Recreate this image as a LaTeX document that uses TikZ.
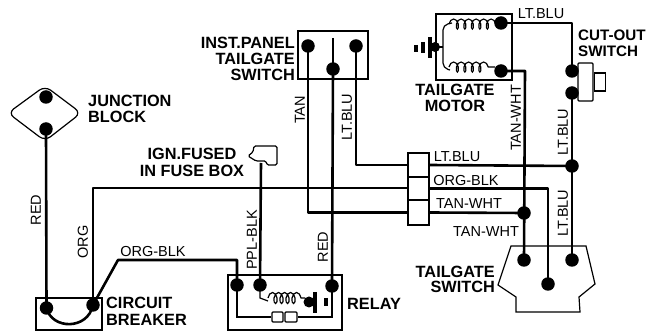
\documentclass[tikz,border=0pt]{standalone}
\usepackage{fontspec}
\setmainfont{Liberation Sans}
\usetikzlibrary{decorations.pathmorphing}
\tikzset{
  wire/.style={line width=2.6pt,black,line join=round},
  thin wire/.style={line width=1.2pt,black},
  outline/.style={line width=1.2pt,black},
  boxn/.style={draw,line width=1.2pt,inner sep=0pt,rectangle},
  dot/.style={circle,fill=black,inner sep=0pt,minimum size=13.5pt},
  tag/.style={font=\fontsize{14.5}{15}\selectfont,inner sep=0pt},
  vtag/.style={tag,rotate=90},
  title/.style={font=\fontsize{16.3}{17}\bfseries\selectfont,inner sep=0pt,align=left},
  coilwire/.style={line width=1.2pt,decorate,decoration={coil,aspect=0.55,amplitude=5pt,segment length=7.5pt}},
  coilsmall/.style={line width=1.2pt,decorate,decoration={coil,aspect=0.55,amplitude=5.5pt,segment length=6pt}}
}
\begin{document}
\begin{tikzpicture}[x=1pt,y=-1pt]
\useasboundingbox (0,0) rectangle (649,331);
% boxes
\node[boxn,minimum width=66pt,minimum height=32pt] (cb) at (69,314) {};
\node[boxn,minimum width=114pt,minimum height=55pt] (relay) at (285,302.5) {};
\node[boxn,minimum width=70pt,minimum height=48pt] (panel) at (333,55) {};
\node[boxn,minimum width=76pt,minimum height=66pt] (motor) at (474,47) {};
\node[boxn,minimum width=15pt,minimum height=38pt,rounded corners=1pt] (cut) at (585.5,82) {};
\node[boxn,minimum width=11pt,minimum height=18pt,anchor=west] (nub) at (cut.east) {};
\node[boxn,minimum width=21pt,minimum height=24pt] (c1) at (418.5,165) {};
\node[boxn,minimum width=21pt,minimum height=23pt] (c2) at (418.5,188.5) {};
\node[boxn,minimum width=21pt,minimum height=25pt] (c3) at (418.5,212.5) {};
% junction block outline
\draw[outline,rounded corners=7pt] (45,86) -- (81,113) -- (45,141) -- (8,113) -- cycle;
% tailgate switch outline
\draw[outline] (511,246) -- (586,246) -- (595,284) -- (579,297) -- (580,312) -- (516,312) -- (516,297) -- (498,285) -- cycle;
% fuse connector
\draw[outline,rounded corners=1.5pt] (254,146) -- (277,146) -- (277,165) -- (267,165) -- (266,161) -- (256,161) -- (248,156) -- (253,152) -- cycle;
% dots
\node[dot] (j1) at (46,97) {};
\node[dot] (j2) at (46,129) {};
\node[dot] (cb1) at (46.5,308) {};
\node[dot] (cb2) at (93,305) {};
\node[dot] (r1) at (237,285) {};
\node[dot] (r2) at (260,285) {};
\node[dot] (r3) at (332,286) {};
\node[dot] (p1) at (308,46) {};
\node[dot] (p2) at (333,69) {};
\node[dot] (p3) at (356,46) {};
\node[dot] (m1) at (501,23) {};
\node[dot] (m2) at (501,71) {};
\node[dot] (s1) at (572,71) {};
\node[dot] (s2) at (572,93) {};
\node[dot] (n1) at (572,166) {};
\node[dot] (n2) at (524,213) {};
\node[dot] (t1) at (524,260) {};
\node[dot] (t2) at (548,284) {};
\node[dot] (t3) at (572,260) {};
\coordinate (fuse) at (261,163);
\coordinate (orgb) at (118,260);
\coordinate (orgc) at (237,260);
\coordinate (orgt) at (93,188);
\coordinate (mc) at (525,71);
\coordinate (mt) at (572,23);
\coordinate (pt) at (333,38);
% wires
\draw[wire] (j2.center) -- (cb1.center);
\draw[wire] (cb2.center) -- (orgt) -- (408,188);
\draw[wire] (cb2.center) -- (orgb) -- (orgc) -- (r1.center);
\draw[wire] (fuse) -- (r2.center);
\draw[wire] (p2.center) -- (r3.center);
\draw[wire] (p1.center) |- (c3.west);
\draw[wire] (p3.center) |- (c1.west);
\draw[wire] (c1.east) -- (n1.center);
\draw[wire] (c2.east) -| (t2.center);
\draw[wire] (c3.east) -- (n2.center);
\draw[wire] (m1.center) -- (mt) -- (s1.center);
\draw[wire] (s2.center) -- (t3.center);
\draw[wire] (m2.center) -- (mc) -- (t1.center);
\draw[thin wire] (pt) -- (p2.center);
% circuit breaker strap
\draw[wire] (cb1.center) .. controls (52,330) and (88,330) .. (cb2.center);
% motor internals
\node[dot,minimum size=10pt] (mg) at (435,47) {};
\draw[thin wire] (mg.center) -- (443,47);
\draw[thin wire,rounded corners=5pt] (452,23) -- (443,25) -- (443,68) -- (450,70);
\draw[coilwire] (449,24) -- (496,24);
\draw[coilwire] (449,67) -- (495,67);
\draw[thin wire] (495,24) -- (m1.center);
\draw[thin wire] (495,70) -- (m2.center);
\draw[line width=3.5pt] (430,37) -- (430,58);
\draw[line width=3.5pt] (423,42) -- (423,53);
\draw[line width=3.5pt] (416,45) -- (416,52);
% relay internals
\draw[thin wire] (r2.center) -- (260,298) -- (268,301);
\draw[coilsmall] (268,298) -- (305,298);
\node[dot,minimum size=11pt] (rg) at (309,302) {};
\draw[line width=3.5pt] (315,292) -- (315,313);
\draw[line width=3.5pt] (326,298) -- (326,306);
\node[boxn,minimum width=11pt,minimum height=10pt,rounded corners=1pt] (k1) at (277.5,317) {};
\node[boxn,minimum width=12pt,minimum height=10pt,rounded corners=1pt] (k2) at (291,317) {};
\draw[thin wire] (r1.center) |- (k1.west);
\draw[thin wire] (k2.east) -| (r3.center);
% bold labels
\node[title,anchor=west] (lj) at (88,109) {JUNCTION\\[-0.5pt]BLOCK};
\node[title,anchor=west] (lc) at (106,311.5) {CIRCUIT\\[-0.5pt]BREAKER};
\node[title,anchor=west] (lr) at (347,304) {RELAY};
\node[title,align=right,anchor=east] (lt) at (495,279.5) {TAILGATE\\[-2pt]SWITCH};
\node[title,align=center] (lm) at (455,98) {TAILGATE\\[-1pt]MOTOR};
\node[title,anchor=west,font=\fontsize{15.2}{17}\bfseries\selectfont] (lo) at (578,43.5) {CUT-OUT\\[-0.5pt]SWITCH};
\node[title,align=right,anchor=east] (lp) at (295,59) {INST.PANEL\\[-1pt]TAILGATE\\[-1pt]SWITCH};
\node[title,align=center] (lf) at (192,162) {IGN.FUSED\\IN FUSE BOX};
% wire labels
\node[vtag] at (36,210) {RED};
\node[vtag] at (83,242) {ORG};
\node[tag] at (153,252) {ORG-BLK};
\node[vtag] at (252,240) {PPL-BLK};
\node[vtag] at (323,247) {RED};
\node[vtag] at (300,110) {TAN};
\node[vtag] at (347,117) {LT.BLU};
\node[tag] at (541,14) {LT.BLU};
\node[tag] at (457,157) {LT.BLU};
\node[tag] at (466,181) {ORG-BLK};
\node[tag] at (469,204) {TAN-WHT};
\node[tag] at (486,232) {TAN-WHT};
\node[vtag] at (516,118) {TAN-WHT};
\node[vtag] at (563,132) {LT.BLU};
\node[vtag] at (563,213) {LT.BLU};
\end{tikzpicture}
\end{document}
